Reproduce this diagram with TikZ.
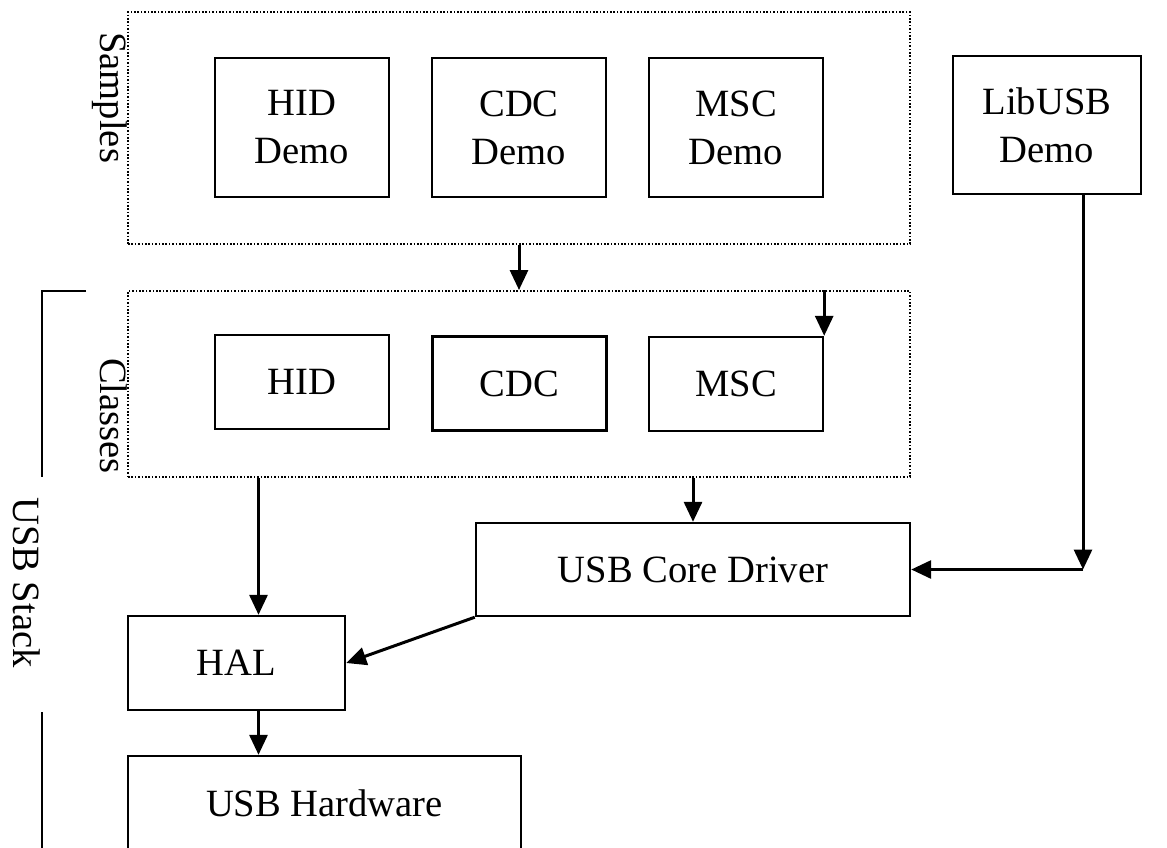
\documentclass[tikz,border=0pt]{standalone}
\usepackage{fontspec}
\setmainfont{Liberation Serif}
\usetikzlibrary{arrows.meta}

\tikzset{
	box/.style={draw, line width=2.4pt, inner sep=0pt, align=center,
		font=\fontsize{38.6}{48}\selectfont},
	group/.style={draw, line width=2pt, dash pattern=on 1.6pt off 1.8pt,
		inner sep=0pt},
	arr/.style={line width=3pt, -{Triangle[length=20pt,width=18pt]}},
	lbl/.style={rotate=-90, anchor=base west, inner sep=0pt,
		font=\fontsize{38.6}{48}\selectfont}
}

\begin{document}
\begin{tikzpicture}[x=1pt, y=-1pt]

	\useasboundingbox (0,0) rectangle (1167,847);
	\clip (0,0) rectangle (1167,847);

	% Grupper
	\node [group, minimum width=782pt, minimum height=232pt] (samples) at (519,128) {};
	\node [group, minimum width=782pt, minimum height=186pt] (classes) at (519,384) {};

	% Demoer
	\node [box, minimum width=174pt, minimum height=139pt] (hiddemo) at (302,127.5) {HID\\Demo};
	\node [box, minimum width=174pt, minimum height=139pt] (cdcdemo) at (519,127.5) {CDC\\Demo};
	\node [box, minimum width=174pt, minimum height=139pt] (mscdemo) at (736,127.5) {MSC\\Demo};
	\node [box, minimum width=188pt, minimum height=138pt] (libusb) at (1047,125) {LibUSB\\Demo};

	% Klasser
	\node [box, minimum width=174pt, minimum height=94pt] (hid) at (302,382) {HID};
	\node [box, minimum width=174pt, minimum height=94pt] (cdc) at (519.5,383.5) {CDC};
	\node [box, minimum width=174pt, minimum height=94pt] (msc) at (736,384) {MSC};

	% Driver og maskinvare
	\node [box, minimum width=434pt, minimum height=93pt] (core) at (693,569.5) {USB Core Driver};
	\node [box, minimum width=217pt, minimum height=94pt] (hal) at (236.5,663) {HAL};
	\node [box, minimum width=393pt, minimum height=94pt] (hw) at (324.5,803) {USB Hardware};

	% Piler
	\draw [arr] (samples.south) -- (classes.north);
	\draw [arr] (msc.north east |- classes.north) -- (msc.north east);
	\draw [arr] (core.north |- classes.south) -- (core.north);
	\draw [arr] ([xshift=22pt]hal.north |- classes.south) -- ([xshift=22pt]hal.north);
	\draw [arr] ([xshift=22pt]hal.south) -- ([xshift=22pt]hal.south |- hw.north);
	\draw [arr] (core.south west) -- (hal.east);
	\coordinate (turn) at ([xshift=36pt]libusb.south |- core.east);
	\draw [arr] ([xshift=36pt]libusb.south) -- (turn);
	\draw [arr] (turn) -- (core.east);

	% Klamme
	\draw [line width=2.4pt] (86,291) -- (42,291) -- (42,477);
	\draw [line width=2.4pt] (42,712) -- (42,850);

	% Tekst
	\node [lbl] (samplestxt) at (100,32) {Samples};
	\node [lbl] (classestxt) at (100,358) {Classes};
	\node [lbl] (stacktxt) at (13,497) {USB Stack};

\end{tikzpicture}
\end{document}
